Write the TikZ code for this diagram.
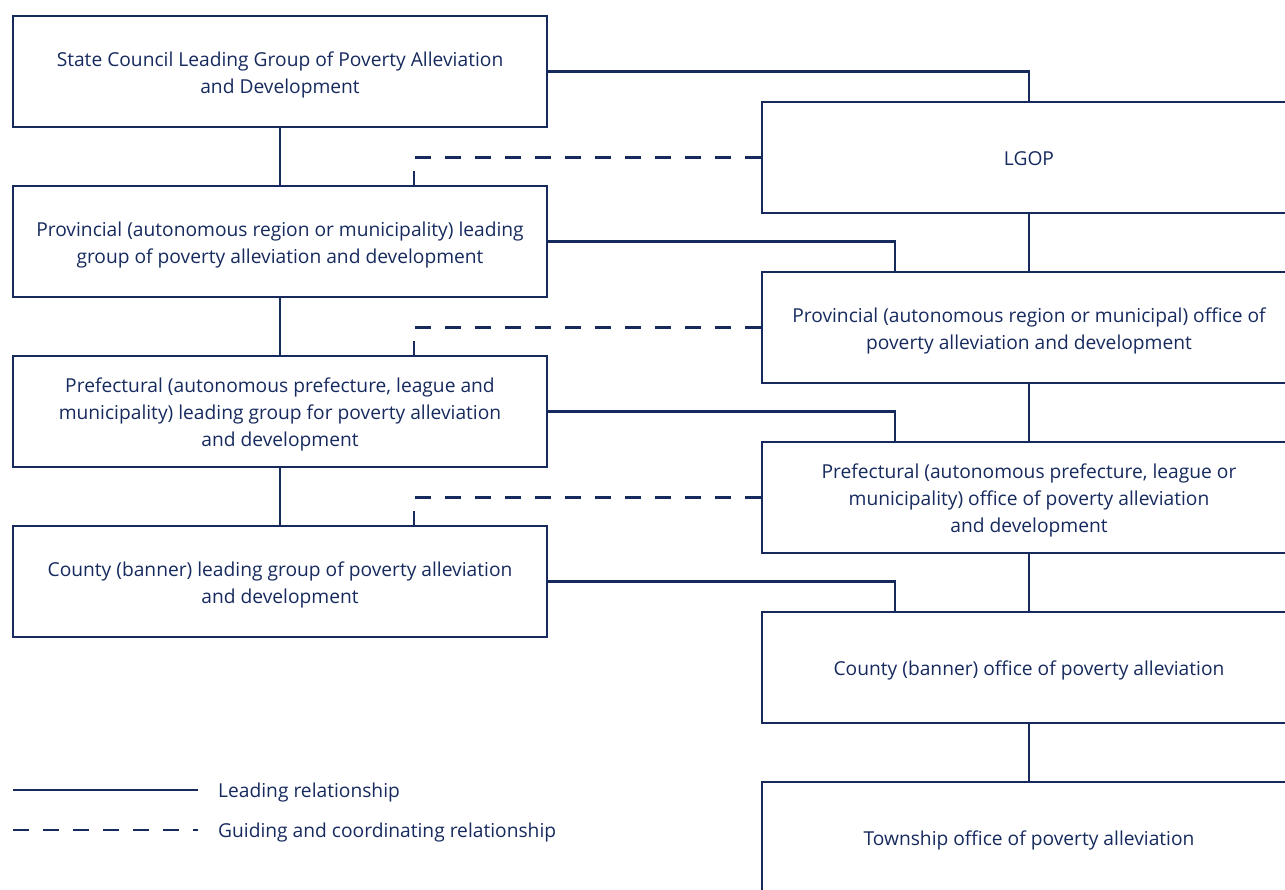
\documentclass[tikz,border=0pt]{standalone}
\usepackage{fontspec}
\setmainfont{Open Sans}
\definecolor{navy}{RGB}{22,42,94}
\newcommand{\boxtxt}[1]{\begin{tabular}{@{}c@{}}\rule{0pt}{24.9pt}#1\end{tabular}}
\begin{document}
\begin{tikzpicture}[x=1pt,y=-1pt,
  box/.style={draw=navy,line width=2.7pt,minimum width=534pt,minimum height=111pt,
    text=navy,font=\fontsize{19.2}{27}\selectfont,inner sep=0pt},
  lead/.style={draw=navy,line width=2.7pt},
  guide/.style={draw=navy,line width=2.7pt,dash pattern=on 16pt off 14pt},
  legtext/.style={text=navy,anchor=west,font=\fontsize{19.2}{27}\selectfont,inner sep=0pt}]
\useasboundingbox (0,0) rectangle (1285,889);
\clip (0,0) rectangle (1285,889);
% left column
\node[box] (L1) at (280,71.5) {\boxtxt{State Council Leading Group of Poverty Alleviation\\and Development}};
\node[box] (L2) at (280,241.5) {\boxtxt{Provincial (autonomous region or municipality) leading\\group of poverty alleviation and development}};
\node[box] (L3) at (280,411.5) {\boxtxt{Prefectural (autonomous prefecture, league and\\municipality) leading group for poverty alleviation\\and development}};
\node[box] (L4) at (280,581.5) {\boxtxt{County (banner) leading group of poverty alleviation\\and development}};
% right column
\node[box] (R1) at (1029,157.5) {\boxtxt{LGOP}};
\node[box] (R2) at (1029,327.5) {\boxtxt{Provincial (autonomous region or municipal) office of\\poverty alleviation and development}};
\node[box] (R3) at (1029,497.5) {\boxtxt{Prefectural (autonomous prefecture, league or\\municipality) office of poverty alleviation\\and development}};
\node[box] (R4) at (1029,667.5) {\boxtxt{County (banner) office of poverty alleviation}};
\node[box] (R5) at (1029,837.5) {\boxtxt{Township office of poverty alleviation}};
% leading relationships
\draw[lead] (L1.south) -- (L2.north);
\draw[lead] (L2.south) -- (L3.north);
\draw[lead] (L3.south) -- (L4.north);
\draw[lead] (R1.south) -- (R2.north);
\draw[lead] (R2.south) -- (R3.north);
\draw[lead] (R3.south) -- (R4.north);
\draw[lead] (R4.south) -- (R5.north);
\draw[lead] (L1.east) -| (R1.north);
\draw[lead] (L2.east) -| ([xshift=-134pt]R2.north);
\draw[lead] (L3.east) -| ([xshift=-134pt]R3.north);
\draw[lead] (L4.east) -| ([xshift=-134pt]R4.north);
% guiding relationships
\draw[guide] (R1.west) -| ([xshift=134pt]L2.north);
\draw[guide] (R2.west) -| ([xshift=134pt]L3.north);
\draw[guide] (R3.west) -| ([xshift=134pt]L4.north);
% legend
\coordinate (la) at (13,790);
\coordinate (lb) at (198,790);
\coordinate (ga) at (13,830);
\coordinate (gb) at (198,830);
\draw[lead] (la) -- (lb);
\draw[guide] (ga) -- (gb);
\node[legtext] (lt) at (218,793) {Leading relationship};
\node[legtext] (gt) at (218,833) {Guiding and coordinating relationship};
\end{tikzpicture}
\end{document}
